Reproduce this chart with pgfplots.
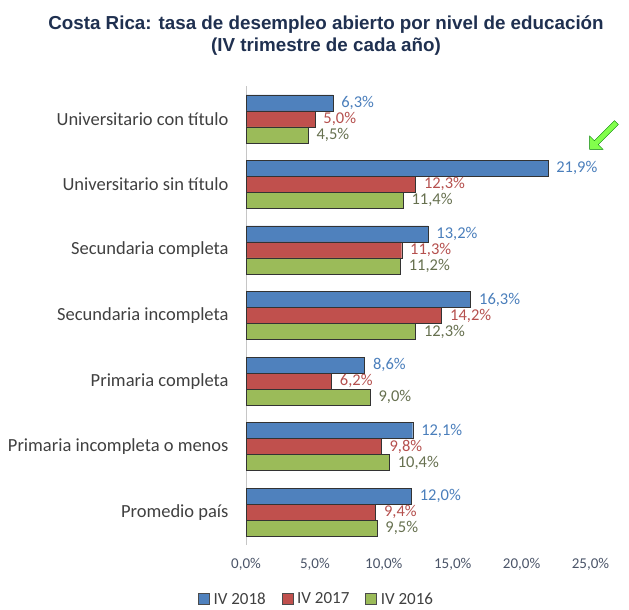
\documentclass[border=0pt]{standalone}
\usepackage{fontspec}
\setmainfont{Carlito}
\newfontfamily\titlefont{Liberation Sans}
\usepackage{pgfplots}
\pgfplotsset{compat=1.18}
\usetikzlibrary{shapes.arrows}

\definecolor{c18}{HTML}{4F81BD}
\definecolor{c17}{HTML}{C0504D}
\definecolor{c16}{HTML}{9BBB59}
\definecolor{l18}{HTML}{4A7EBB}
\definecolor{l17}{HTML}{B5504E}
\definecolor{l16}{HTML}{66704F}
\definecolor{txt}{HTML}{404040}
\definecolor{tickc}{HTML}{4A5468}
\definecolor{titlec}{HTML}{1F3050}

\begin{document}
\begin{tikzpicture}
  \path[use as bounding box] (0,0) rectangle (629bp,610bp);

  % title
  \node[font=\titlefont\bfseries\fontsize{18.8bp}{22bp}\selectfont, text=titlec, align=center]
    at (326bp,574bp) {Costa Rica: tasa de desempleo abierto por nivel de educación\\(IV trimestre de cada año)};

  \begin{axis}[
    at={(246bp,65bp)}, anchor=south west,
    scale only axis,
    width=344.5bp, height=459bp,
    xmin=0, xmax=25,
    ymin=-0.5, ymax=6.5,
    xbar,
    bar width=0.244,
    axis x line*=bottom,
    axis y line*=left,
    x axis line style={draw=none},
    y axis line style={draw=gray!45},
    major tick length=0pt,
    xtick={0,5,...,25},
    xticklabel={\pgfmathprintnumber[fixed,fixed zerofill,precision=1,use comma]{\tick}\%},
    xticklabel style={font=\fontsize{15bp}{17bp}\selectfont, text=tickc, yshift=-10bp},
    /pgf/number format/assume math mode=true,
    ytick={0,...,6},
    yticklabels={Promedio país, Primaria incompleta o menos, Primaria completa,
      Secundaria incompleta, Secundaria completa, Universitario sin título,
      Universitario con título},
    yticklabel style={font=\fontsize{18.5bp}{20bp}\selectfont, text=txt, xshift=-14bp},
    nodes near coords={\pgfmathprintnumber[fixed,fixed zerofill,precision=1,use comma]{\pgfplotspointmeta}\%},
    every node near coord/.append style={font=\fontsize{16.5bp}{18bp}\selectfont, xshift=5bp},
    legend columns=3,
    legend style={at={(axis description cs:0.205,-0.118)}, anchor=center, draw=none,
      font=\fontsize{17bp}{18bp}\selectfont, text=txt, inner sep=0pt,
      /tikz/every even column/.append style={column sep=14bp},
      /tikz/every odd column/.append style={column sep=2bp}},
    legend image code/.code={\draw[#1, draw=black!70] (0bp,-5.5bp) rectangle (11bp,5.5bp);},
  ]
    \addplot[fill=c18, draw=black!80, bar shift=0.244,
      every node near coord/.append style={text=l18}] coordinates {
      (12.0,0) (12.1,1) (8.6,2) (16.3,3) (13.2,4) (21.9,5) (6.3,6)};
    \addplot[fill=c17, draw=black!80, bar shift=0,
      every node near coord/.append style={text=l17}] coordinates {
      (9.4,0) (9.8,1) (6.2,2) (14.2,3) (11.3,4) (12.3,5) (5.0,6)};
    \addplot[fill=c16, draw=black!80, bar shift=-0.244,
      every node near coord/.append style={text=l16}] coordinates {
      (9.5,0) (10.4,1) (9.0,2) (12.3,3) (11.2,4) (11.4,5) (4.5,6)};
    \legend{IV 2018, IV 2017, IV 2016}
  \end{axis}

  % green arrow pointing at the 21,9% bar
  \node[single arrow, fill=green!60!lime!70, draw=green!50!black, rotate=225,
    minimum height=38bp, minimum width=19bp, single arrow head extend=3bp,
    inner sep=1bp] at (604bp,475bp) {};
\end{tikzpicture}
\end{document}
